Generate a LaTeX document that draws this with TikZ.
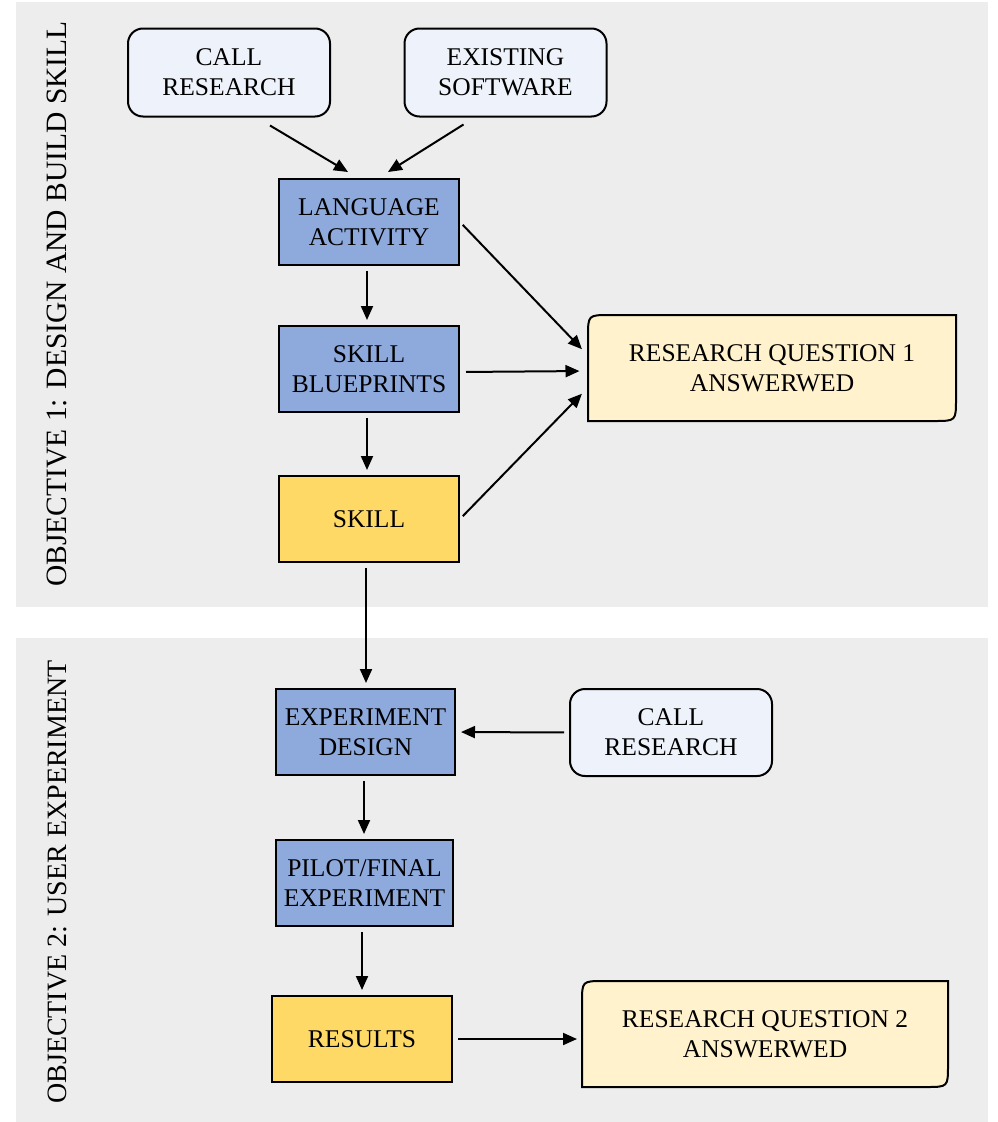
\documentclass[tikz,border=0pt]{standalone}
\usepackage{fontspec}
\setmainfont{Liberation Serif}
\usetikzlibrary{arrows.meta,calc}
\definecolor{panelgray}{HTML}{EDEDED}
\definecolor{stepblue}{HTML}{8EA9DB}
\definecolor{stepyellow}{HTML}{FFD966}
\definecolor{inputblue}{HTML}{EEF2FA}
\definecolor{rqfill}{HTML}{FFF2CC}
\begin{document}
\begin{tikzpicture}[x=1pt,y=-1pt,
  boxtext/.style={align=center, inner sep=0pt, font=\fontsize{25.5}{30}\selectfont, line width=2pt},
  stepbox/.style={boxtext, draw=black, fill=stepblue, minimum width=180pt, minimum height=86pt},
  resultbox/.style={boxtext, draw=black, fill=stepyellow, minimum width=180pt, minimum height=86pt},
  inputbox/.style={boxtext, draw=black, fill=inputblue, rounded corners=15pt, minimum width=202pt, minimum height=88pt},
  rqbox/.style={boxtext, minimum width=367pt, minimum height=106pt},
  rqshape/.style={draw=black, fill=rqfill, line width=2pt},
  panel/.style={fill=panelgray, draw=none},
  sidelabel/.style={rotate=90, inner sep=0pt},
  arr/.style={-{Triangle[length=14pt,width=12pt]}, line width=2pt, shorten <=5pt, shorten >=5pt}
]
\useasboundingbox (0,0) rectangle (998,1122);
\fill[white] (0,0) rectangle (998,1122);
% panels
\path[panel] (16,2) rectangle (988,607);
\path[panel] (16,638) rectangle (988,1122);
\node[sidelabel, font=\fontsize{29.5}{30}\selectfont] (obj1) at (57,304) {OBJECTIVE 1: DESIGN AND BUILD SKILL};
\node[sidelabel, font=\fontsize{28}{30}\selectfont] (obj2) at (57,882) {OBJECTIVE 2: USER EXPERIMENT};

% nodes objective 1
\node[inputbox] (call1) at (229,72.5) {CALL\\RESEARCH};
\node[inputbox] (exist) at (505.5,72.5) {EXISTING\\SOFTWARE};
\node[stepbox] (la) at (369,222) {LANGUAGE\\ACTIVITY};
\node[stepbox] (sb) at (369,369) {SKILL\\BLUEPRINTS};
\node[resultbox] (skill) at (369,519) {SKILL};
\path[rqshape] (588,315+22) .. controls (588,315) .. (588+22,315) -- (956,315) -- (956,421-22) .. controls (956,421) .. (956-22,421) -- (588,421) -- cycle;
\node[rqbox] (rq1) at (772,368) {RESEARCH QUESTION 1\\ANSWERWED};

% nodes objective 2
\node[stepbox, minimum width=179pt] (ed) at (365.5,732) {EXPERIMENT\\DESIGN};
\node[inputbox, minimum height=87pt] (call2) at (671,732.5) {CALL\\RESEARCH};
\node[stepbox, minimum width=177pt] (pf) at (364.5,883) {PILOT/FINAL\\EXPERIMENT};
\node[resultbox] (res) at (362,1039) {RESULTS};
\path[rqshape] (582,981+22) .. controls (582,981) .. (582+22,981) -- (948,981) -- (948,1087-22) .. controls (948,1087) .. (948-22,1087) -- (582,1087) -- cycle;
\node[rqbox, minimum width=366pt] (rq2) at (765,1034) {RESEARCH QUESTION 2\\ANSWERWED};

% connectors
\draw[arr, shorten <=0pt, shorten >=0pt] ($(call1.south)+(41,8)$) -- ($(la.north)+(-21,-6)$);
\draw[arr, shorten <=0pt, shorten >=0pt] ($(exist.south)+(-42,7)$) -- ($(la.north)+(19,-6)$);
\draw[arr] ($(la.south)+(-2,0)$) -- ($(sb.north)+(-2,0)$);
\draw[arr] ($(sb.south)+(-2,0)$) -- ($(skill.north)+(-2,0)$);
\draw[arr, shorten <=4pt, shorten >=8pt] (la.east) -- ($(rq1.west)+(0,-13)$);
\draw[arr, shorten <=6pt, shorten >=8pt] ($(sb.east)+(0,3)$) -- ($(rq1.west)+(0,3)$);
\draw[arr, shorten <=4pt, shorten >=8pt] (skill.east) -- ($(rq1.west)+(0,20)$);
\draw[arr] ($(skill.south)+(-3,0)$) -- ($(ed.north)+(0.5,0)$);
\draw[arr] (call2.west) -- (ed.east);
\draw[arr] ($(ed.south)+(-1.5,0)$) -- ($(pf.north)+(-0.5,0)$);
\draw[arr] ($(pf.south)+(-2.5,0)$) -- ($(res.north)+(0,0)$);
\draw[arr, shorten >=4pt] (res.east) -- ($(rq2.west)+(0,5)$);
\end{tikzpicture}
\end{document}
